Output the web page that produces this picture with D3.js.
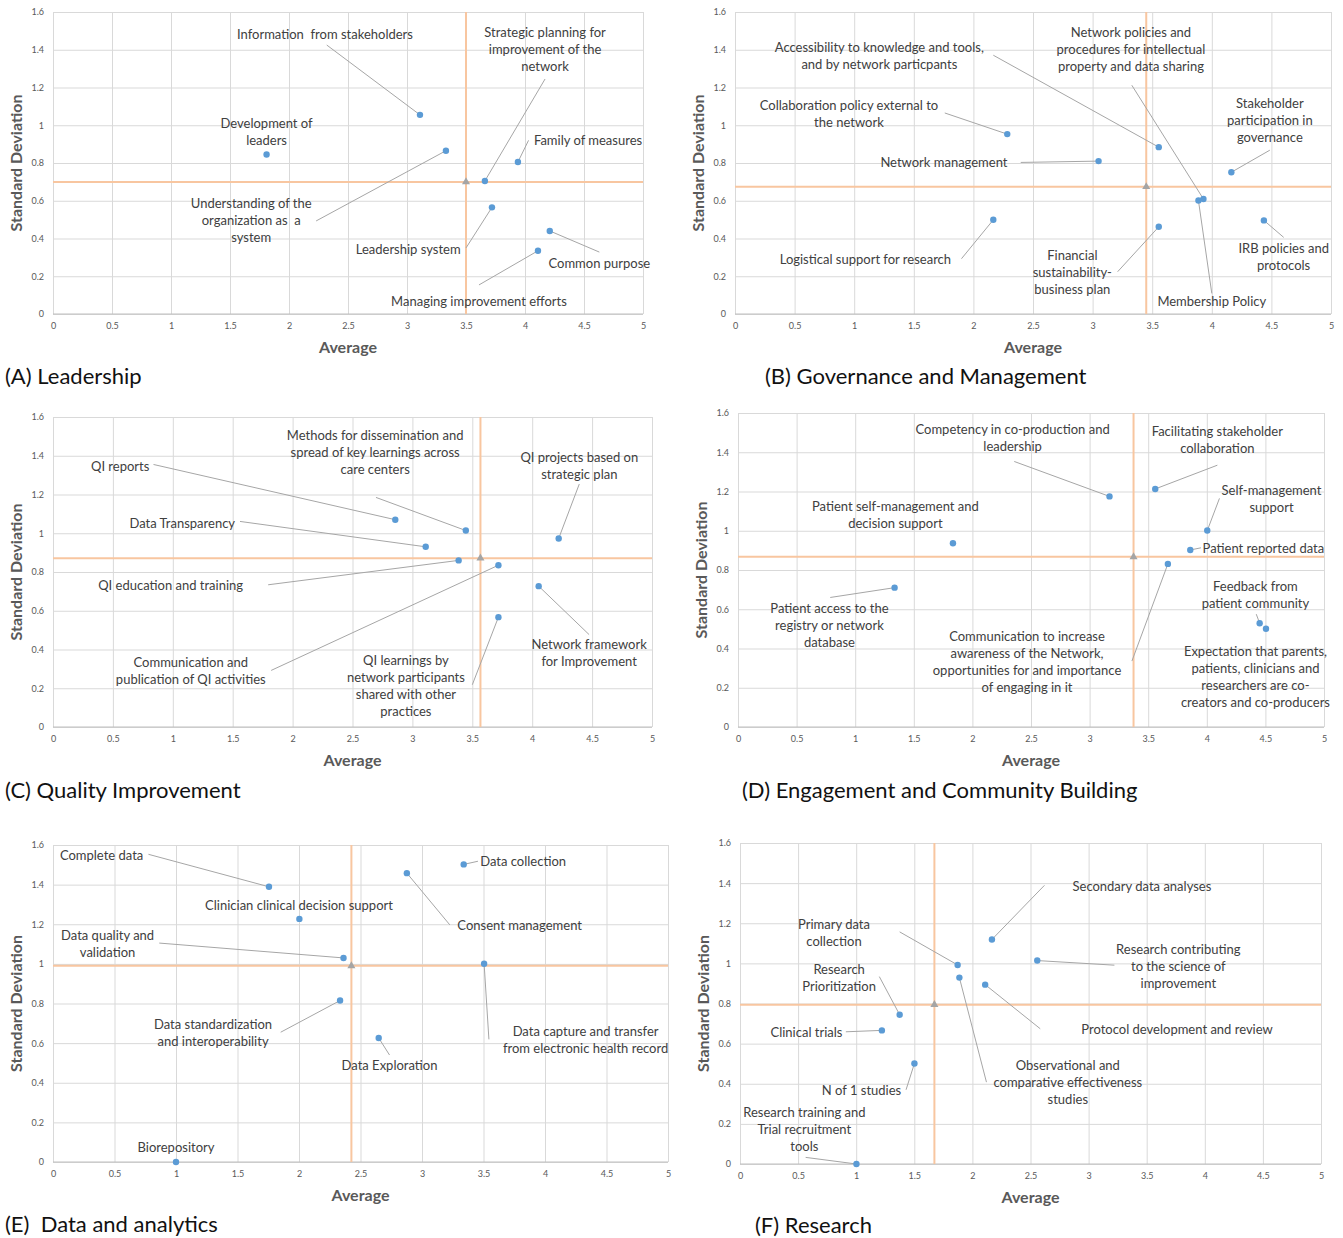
<!doctype html>
<html lang="en">
<head>
  <meta charset="utf-8">
  <title>Network maturity self-assessment</title>
  <script src="https://d3js.org/d3.v7.min.js"></script>
  <style>
    body { margin: 0; background: #fff; }
    text { font-family: Lato, "Open Sans", sans-serif; white-space: pre; }
    .grid line { stroke: #d9d9d9; stroke-width: 1; }
    .grid .domain { display: none; }
    .grid text { fill: #595959; font-size: 9px; }
    .lbl { fill: #404040; font-size: 13px; }
    .leader { stroke: #a6a6a6; stroke-width: 1; fill: none; }
    .axtitle { fill: #595959; font-size: 16px; font-weight: bold; }
    .ptitle { fill: #111; font-size: 22px; }
  </style>
</head>
<body>
<script>
// tick labels shared by all six panels
var xTicks = [0, 0.5, 1, 1.5, 2, 2.5, 3, 3.5, 4, 4.5, 5];
var yTicks = [0, 0.2, 0.4, 0.6, 0.8, 1, 1.2, 1.4, 1.6];

// (A) Leadership
var leadNames = ["Information  from stakeholders", "Development of\nleaders",
  "Understanding of the\norganization as  a\nsystem", "Strategic planning for\nimprovement of the\nnetwork",
  "Family of measures", "Leadership system", "Common purpose", "Managing improvement efforts"];
var leadAvg = [3.11, 1.81, 3.33, 3.66, 3.94, 3.72, 4.21, 4.11];
var leadSd  = [1.055, 0.845, 0.865, 0.705, 0.805, 0.565, 0.44, 0.335];
var leadMean = [3.5, 0.70];

// (B) Governance and Management
var govNames = ["Accessibility to knowledge and tools,\nand by network particpants",
  "Network policies and\nprocedures for intellectual\nproperty and data sharing",
  "Collaboration policy external to\nthe network", "Stakeholder\nparticipation in\ngovernance",
  "Network management", "Logistical support for research", "Financial\nsustainability-\nbusiness plan",
  "IRB policies and\nprotocols", "Membership Policy"];
var govAvg = [3.555, 3.93, 2.284, 4.164, 3.05, 2.167, 3.555, 4.437, 3.888];
var govSd  = [0.884, 0.609, 0.953, 0.751, 0.81, 0.499, 0.462, 0.496, 0.601];
var govMean = [3.45, 0.674];

// (C) Quality Improvement
var qiNames = ["QI reports", "Methods for dissemination and\nspread of key learnings across\ncare centers",
  "QI projects based on\nstrategic plan", "Data Transparency", "QI education and training",
  "Communication and\npublication of QI activities", "Network framework\nfor Improvement",
  "QI learnings by\nnetwork participants\nshared with other\npractices"];
var qiAvg = [2.857, 3.446, 4.221, 3.111, 3.386, 3.718, 4.054, 3.718];
var qiSd  = [1.07, 1.014, 0.973, 0.93, 0.86, 0.835, 0.727, 0.567];
var qiMean = [3.568, 0.871];

// (D) Engagement and Community Building
var engNames = ["Competency in co-production and\nleadership", "Facilitating stakeholder\ncollaboration",
  "Self-management\nsupport", "Patient self-management and\ndecision support", "Patient reported data",
  "Communication to increase\nawareness of the Network,\nopportunities for and importance\nof engaging in it",
  "Patient access to the\nregistry or network\ndatabase", "Feedback from\npatient community",
  "Expectation that parents,\npatients, clinicians and\nresearchers are co-\ncreators and co-producers"];
var engAvg = [3.17, 3.56, 4.004, 1.834, 3.859, 3.668, 1.336, 4.451, 4.505];
var engSd  = [1.175, 1.213, 1.001, 0.936, 0.902, 0.831, 0.71, 0.529, 0.501];
var engMean = [3.375, 0.867];

// (E) Data and analytics
var dataNames = ["Complete data", "Data collection", "Consent management", "Clinician clinical decision support",
  "Data quality and\nvalidation", "Data capture and transfer\nfrom electronic health record",
  "Data standardization\nand interoperability", "Data Exploration", "Biorepository"];
var dataAvg = [1.756, 3.339, 2.877, 2.003, 2.362, 3.505, 2.334, 2.648, 1.0];
var dataSd  = [1.389, 1.502, 1.458, 1.227, 1.03, 1.001, 0.815, 0.626, 0];
var dataMean = [2.426, 0.99];

// (F) Research
var resNames = ["Secondary data analyses", "Research contributing\nto the science of\nimprovement",
  "Primary data\ncollection", "Observational and\ncomparative effectiveness\nstudies",
  "Protocol development and review", "Research\nPrioritization", "Clinical trials", "N of 1 studies",
  "Research training and\nTrial recruitment\ntools"];
var resAvg = [2.168, 2.558, 1.873, 1.888, 2.11, 1.374, 1.221, 1.501, 1.002];
var resSd  = [1.119, 1.014, 0.992, 0.929, 0.894, 0.744, 0.666, 0.501, 0];
var resMean = [1.673, 0.794];

// label placement, in chart units: [x, y, anchor, leader start x, leader start y]
var leadLbl = [[2.305,1.483,"middle",2.32,1.425],[1.81,0.962,"middle"],[1.68,0.493,"middle",2.23,0.493],
  [4.17,1.404,"middle",4.17,1.245],[4.076,0.917,"start",4.03,0.92],[3.01,0.342,"middle",3.5,0.35],
  [4.63,0.27,"middle",4.63,0.328],[3.61,0.069,"middle",3.61,0.154]];
var govLbl = [[1.211,1.365,"middle",2.167,1.371],[3.322,1.401,"middle",3.329,1.212],[0.956,1.059,"middle",1.76,1.065],
  [4.487,1.023,"middle",4.487,0.868],[1.753,0.803,"middle",2.397,0.803],[1.094,0.288,"middle",1.90,0.293],
  [2.83,0.219,"middle",3.21,0.224],[4.603,0.303,"middle",4.603,0.406],[4.0,0.065,"middle",4.0,0.109]];
var qiLbl = [[0.561,1.346,"middle",0.839,1.355],[2.689,1.419,"middle",2.696,1.185],[4.393,1.345,"middle",4.393,1.254],
  [1.079,1.052,"middle",1.561,1.061],[0.982,0.729,"middle",1.796,0.734],[1.15,0.291,"middle",1.821,0.292],
  [4.475,0.38,"middle",4.475,0.477],[2.946,0.21,"middle",3.5,0.218]];
var engLbl = [[2.343,1.472,"middle",2.357,1.353],[4.09,1.464,"middle",4.09,1.334],[4.552,1.162,"middle",4.108,1.165],
  [1.343,1.081,"middle"],[3.964,0.911,"start",3.95,0.913],[2.466,0.334,"middle",3.361,0.336],
  [0.78,0.517,"middle",0.787,0.66],[4.415,0.674,"middle",4.422,0.575],[4.415,0.254,"middle"]];
var dataLbl = [[0.395,1.548,"middle",0.776,1.553],[3.473,1.516,"start",3.455,1.518],[3.794,1.193,"middle",3.226,1.197],
  [2.0,1.295,"middle"],[0.444,1.1,"middle",0.864,1.105],[4.33,0.615,"middle",3.544,0.619],
  [1.301,0.652,"middle",1.851,0.655],[2.736,0.486,"middle",2.736,0.54],[1.0,0.071,"middle"]];
var resLbl = [[3.459,1.385,"middle",2.62,1.389],[3.772,0.987,"middle",3.222,0.991],[0.809,1.151,"middle",1.374,1.157],
  [2.821,0.408,"middle",2.121,0.408],[3.761,0.673,"middle",2.584,0.674],[0.853,0.927,"middle",1.199,0.934],
  [0.572,0.656,"middle",0.911,0.659],[1.046,0.366,"middle",1.429,0.37],[0.554,0.173,"middle",0.565,0.033]];

var panels = [
  {title:"(A) Leadership", names:leadNames, avg:leadAvg, sd:leadSd, mean:leadMean, lbl:leadLbl,
   box:[53,643,12,314], tx:5, ty:384},
  {title:"(B) Governance and Management", names:govNames, avg:govAvg, sd:govSd, mean:govMean, lbl:govLbl,
   box:[735,1331,12,314], tx:765, ty:384},
  {title:"(C) Quality Improvement", names:qiNames, avg:qiAvg, sd:qiSd, mean:qiMean, lbl:qiLbl,
   box:[53,652,417,727], tx:5, ty:798},
  {title:"(D) Engagement and Community Building", names:engNames, avg:engAvg, sd:engSd, mean:engMean, lbl:engLbl,
   box:[738,1324,413,727], tx:742, ty:798},
  {title:"(E)  Data and analytics", names:dataNames, avg:dataAvg, sd:dataSd, mean:dataMean, lbl:dataLbl,
   box:[53,668,845,1162], tx:5, ty:1232},
  {title:"(F) Research", names:resNames, avg:resAvg, sd:resSd, mean:resMean, lbl:resLbl,
   box:[740,1321,843,1164], tx:755, ty:1233}
];

var svg = d3.select("body").append("svg")
  .attr("width", 1343)
  .attr("height", 1238);

panels.forEach(function(p) {
  var x0 = p.box[0], x1 = p.box[1], y0 = p.box[2], y1 = p.box[3];
  var x = d3.scaleLinear().domain([0, 5]).range([x0, x1]);
  var y = d3.scaleLinear().domain([0, 1.6]).range([y1, y0]);
  var g = svg.append("g");

  g.append("g").attr("class", "grid")
    .attr("transform", "translate(0," + y1 + ")")
    .call(d3.axisBottom(x).tickValues(xTicks).tickSize(-(y1 - y0)).tickPadding(9).tickFormat(d3.format("~g")));
  g.append("g").attr("class", "grid")
    .attr("transform", "translate(" + x0 + ",0)")
    .call(d3.axisLeft(y).tickValues(yTicks).tickSize(-(x1 - x0)).tickPadding(9).tickFormat(d3.format("~g")));

  // bottom axis line
  g.append("line").attr("x1", x0).attr("x2", x1).attr("y1", y(0)).attr("y2", y(0))
    .attr("stroke", "#bfbfbf");

  // mean lines
  g.append("line").attr("x1", x(p.mean[0])).attr("x2", x(p.mean[0])).attr("y1", y0).attr("y2", y1)
    .attr("stroke", "#f8c6a0").attr("stroke-width", 2);
  g.append("line").attr("x1", x0).attr("x2", x1).attr("y1", y(p.mean[1])).attr("y2", y(p.mean[1]))
    .attr("stroke", "#f8c6a0").attr("stroke-width", 2);
  g.append("path").attr("d", d3.symbol().type(d3.symbolTriangle).size(28))
    .attr("transform", "translate(" + x(p.mean[0]) + "," + y(p.mean[1]) + ")")
    .attr("fill", "#a5a5a5");

  // leader lines
  p.lbl.forEach(function(l, i) {
    if (l.length < 5) return;
    g.append("line").attr("class", "leader")
      .attr("x1", x(l[3])).attr("y1", y(l[4]))
      .attr("x2", x(p.avg[i])).attr("y2", y(p.sd[i]));
  });

  // points
  g.selectAll("circle").data(p.avg).enter().append("circle")
    .attr("cx", function(d) { return x(d); })
    .attr("cy", function(d, i) { return y(p.sd[i]); })
    .attr("r", 3.2)
    .attr("fill", "#5b9bd5");

  // labels
  p.names.forEach(function(name, i) {
    var l = p.lbl[i];
    var lines = name.split("\n");
    var t = g.append("text").attr("class", "lbl")
      .attr("text-anchor", l[2])
      .attr("x", x(l[0]))
      .attr("y", y(l[1]) - (lines.length - 1) * 17 / 2);
    lines.forEach(function(s, k) {
      t.append("tspan").attr("x", x(l[0])).attr("dy", k === 0 ? "0.35em" : 17).text(s);
    });
  });

  // axis titles
  g.append("text").attr("class", "axtitle").attr("text-anchor", "middle")
    .attr("x", (x0 + x1) / 2).attr("y", y1 + 39).text("Average");
  g.append("text").attr("class", "axtitle").attr("text-anchor", "middle")
    .attr("transform", "translate(" + (x0 - 31) + "," + ((y0 + y1) / 2) + ") rotate(-90)")
    .text("Standard Deviation");

  g.append("text").attr("class", "ptitle").attr("x", p.tx).attr("y", p.ty).text(p.title);
});
</script>
</body>
</html>
